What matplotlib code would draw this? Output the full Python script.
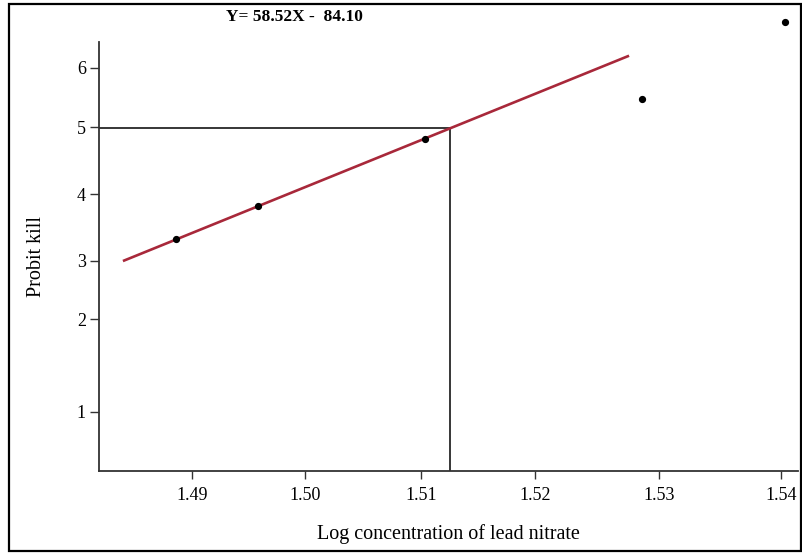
import matplotlib.pyplot as plt
from matplotlib.patches import Rectangle

# observed points (log concentration, probit kill)
log_conc = [1.48864, 1.49560, 1.50978, 1.52820, 1.54034]
probit = [3.337, 3.850, 4.892, 5.513, 6.715]

# fitted regression line end points
fit_x = [1.48414, 1.52710]
fit_y = [2.995, 6.187]

# LC50 guide lines (probit 5)
lc50_x = 1.51190
probit5 = 5.067

# tick positions as drawn on the original axes
xtick_pos = [1.49, 1.49959, 1.50944, 1.51912, 1.52964, 1.54]
xtick_lab = ["1.49", "1.50", "1.51", "1.52", "1.53", "1.54"]
ytick_pos = [0.653, 2.089, 3.0, 4.037, 5.074, 6.0]
ytick_lab = ["1", "2", "3", "4", "5", "6"]

equation = "Y= 58.52X -  84.10"

plt.rcParams['font.family'] = ['Liberation Serif', 'DejaVu Serif']

fig = plt.figure(figsize=(8.03, 5.53), dpi=100)
ax = fig.add_axes([0.1233, 0.1488, 0.8705, 0.7752])

xmin, xmax = 1.48211, 1.54144
ymin, ymax = -0.265, 6.40
ax.set_xlim(xmin, xmax)
ax.set_ylim(ymin, ymax)

# guide lines
ax.plot([xmin, lc50_x], [probit5, probit5], color="black", lw=1.1)
ax.plot([lc50_x, lc50_x], [ymin, probit5], color="black", lw=1.1)

# regression line
ax.plot(fit_x, fit_y, color="#a8283a", lw=1.9, solid_capstyle="butt")

# points
ax.plot(log_conc, probit, "o", color="black", ms=4.2, clip_on=False, zorder=5)

for s in ["top", "right"]:
    ax.spines[s].set_visible(False)
for s in ["left", "bottom"]:
    ax.spines[s].set_color("#333333")
    ax.spines[s].set_linewidth(1.3)

ax.set_xticks(xtick_pos)
ax.set_xticklabels(xtick_lab)
ax.set_yticks(ytick_pos)
ax.set_yticklabels(ytick_lab)
ax.tick_params(axis="x", direction="out", length=5.5, width=1, color="#333333",
               labelsize=13, pad=6)
ax.tick_params(axis="y", direction="out", length=6.5, width=1, color="#333333",
               labelsize=13, pad=3)

ax.set_xlabel("Log concentration of lead nitrate", fontsize=14.5, labelpad=15)
ax.set_ylabel("Probit kill", fontsize=14.5, labelpad=22)

fig.text(294 / 803, 1 - 17 / 553, equation, ha="center", va="center",
         fontsize=12.5, fontweight="bold")

# outer frame
fig.patches.append(Rectangle((9 / 803, 2 / 553), 792 / 803, 547 / 553,
                             transform=fig.transFigure, fill=False,
                             edgecolor="black", lw=1.6))

fig.savefig("out.png", dpi=100)
